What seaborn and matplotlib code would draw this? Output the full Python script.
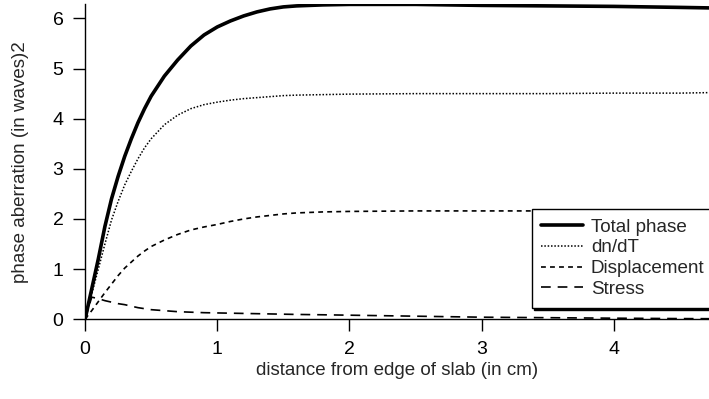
import numpy as np
import pandas as pd
import matplotlib
matplotlib.use("Agg")
import matplotlib.pyplot as plt
import seaborn as sns

# distance from edge of slab (cm)
x_cm = [0, 0.05, 0.1, 0.15, 0.2, 0.25, 0.3, 0.35, 0.4, 0.45, 0.5, 0.6, 0.7, 0.8, 0.9,
        1.0, 1.1, 1.2, 1.3, 1.4, 1.5, 1.6, 1.8, 2.0, 2.5, 3.0, 3.5, 4.0, 4.5, 4.72]

total_phase = [0, 0.6, 1.2, 1.85, 2.4, 2.85, 3.25, 3.6, 3.92, 4.2, 4.45, 4.85, 5.17, 5.45, 5.67,
               5.83, 5.95, 6.05, 6.13, 6.19, 6.23, 6.25, 6.27, 6.28, 6.28, 6.26, 6.25, 6.24, 6.22, 6.21]
dn_dt = [0, 0.5, 1.0, 1.5, 1.98, 2.35, 2.68, 2.95, 3.2, 3.42, 3.6, 3.88, 4.07, 4.2, 4.28,
         4.33, 4.37, 4.4, 4.42, 4.44, 4.46, 4.47, 4.48, 4.49, 4.5, 4.5, 4.5, 4.51, 4.51, 4.52]
displacement = [0, 0.17, 0.35, 0.53, 0.7, 0.87, 1.02, 1.14, 1.26, 1.36, 1.45, 1.58, 1.69, 1.78, 1.84,
                1.89, 1.95, 2.0, 2.04, 2.07, 2.1, 2.12, 2.14, 2.15, 2.16, 2.16, 2.16, 2.16, 2.16, 2.16]
stress = [0, 0.44, 0.41, 0.37, 0.34, 0.31, 0.29, 0.26, 0.23, 0.21, 0.19, 0.17, 0.15, 0.14, 0.13,
          0.125, 0.12, 0.115, 0.11, 0.105, 0.1, 0.095, 0.088, 0.08, 0.06, 0.04, 0.03, 0.02, 0.012, 0.01]

series = ["Total phase", "dn/dT", "Displacement", "Stress"]
values = [total_phase, dn_dt, displacement, stress]

sns.set_style("ticks")
plt.rcParams['font.family'] = ['Liberation Sans', 'DejaVu Sans']
plt.rcParams['lines.scale_dashes'] = False

styles = {
    "Total phase": dict(linestyle="-", linewidth=2.6),
    "dn/dT": dict(linestyle=(0, (1.1, 1.3)), linewidth=1.1),
    "Displacement": dict(linestyle=(0, (3.5, 3.0)), linewidth=1.2),
    "Stress": dict(linestyle=(0, (7.0, 5.0)), linewidth=1.2),
}

fig, ax = plt.subplots(figsize=(7.09, 3.99), dpi=100)
fig.subplots_adjust(left=0.12, right=1.0, bottom=0.2, top=0.989)

for name, vals in zip(series, values):
    df = pd.DataFrame({"x": x_cm, "y": vals})
    sns.lineplot(data=df, x="x", y="y", ax=ax, color="black", label=name,
                 estimator=None, sort=False, **styles[name])

ax.set_xlim(0, 4.72)
ax.set_ylim(0, 6.28)
ax.set_xticks([0, 1, 2, 3, 4])
ax.set_yticks([0, 1, 2, 3, 4, 5, 6])
sns.despine(ax=ax)
for s in ["left", "bottom"]:
    ax.spines[s].set_linewidth(1.0)
    ax.spines[s].set_color("black")
ax.tick_params(direction="out", length=8.5, width=1.0, pad=7, labelsize=14, colors="black")

ax.set_xlabel("distance from edge of slab (in cm)", fontsize=13.5)
ax.set_ylabel("phase aberration (in waves)2", fontsize=13.5)
ax.xaxis.set_label_coords(0.5, -0.135)
ax.yaxis.set_label_coords(-0.09, 0.5)

leg = ax.legend(loc="upper left", bbox_to_anchor=(531.5 / 709, 1 - 209 / 399),
                bbox_transform=fig.transFigure, fontsize=13.6, frameon=True,
                fancybox=False, framealpha=1, edgecolor="black",
                handlelength=2.2, handletextpad=0.45, labelspacing=0.19,
                borderpad=0.5, borderaxespad=0,
                shadow={"color": "black", "alpha": 1})
leg.get_frame().set_linewidth(1.0)

plt.savefig("out.png", dpi=100)
plt.close()
